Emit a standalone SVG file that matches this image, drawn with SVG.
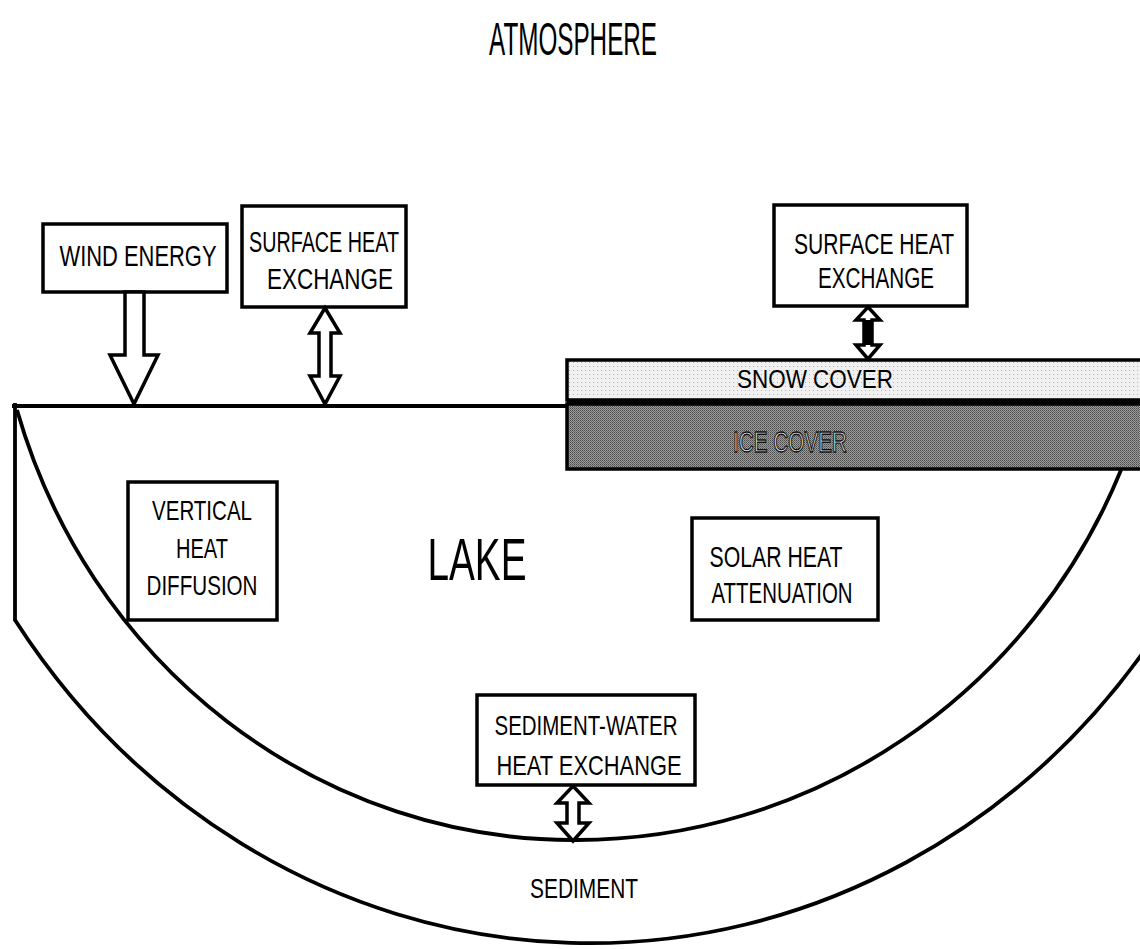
<svg xmlns="http://www.w3.org/2000/svg" width="1140" height="949" viewBox="0 0 1140 949">
<style>
.t{font-family:"Liberation Sans Narrow","Liberation Sans",Arial,sans-serif;fill:#000;text-anchor:middle}
.box{fill:#fff;stroke:#000;stroke-width:3.5}
.ln{fill:none;stroke:#000;stroke-width:3.8}
.arr{fill:#fff;stroke:#000;stroke-width:3.5;stroke-linejoin:miter}
</style>
<defs>
<pattern id="ice" width="2" height="2" patternUnits="userSpaceOnUse">
<rect width="2" height="2" fill="#9a9a9a"/>
<rect width="1" height="1" fill="#4a4a4a"/>
<rect x="1" y="1" width="1" height="1" fill="#6a6a6a"/>
</pattern>
<pattern id="snow" width="4" height="4" patternUnits="userSpaceOnUse">
<rect width="4" height="4" fill="#f0f0f0"/>
<rect x="1" y="2" width="1" height="1" fill="#b8b8b8"/>
</pattern>
</defs>
<rect width="1140" height="949" fill="#fff"/>

<text class="t" x="573" y="55" font-size="46" textLength="168" lengthAdjust="spacingAndGlyphs">ATMOSPHERE</text>

<g id="lake-body">
<line class="ln" x1="12" y1="406" x2="568" y2="406"/>
<line class="ln" x1="15" y1="403" x2="15" y2="621"/>
<path class="ln" d="M 17 410 A 580 600 0 0 0 575 840 A 590 600 0 0 0 1121 470"/>
<path class="ln" d="M 15 620 A 697 743 0 0 0 1142 654"/>
</g>

<g id="snow-cover">
<rect x="567" y="360" width="580" height="40" fill="url(#snow)" stroke="#000" stroke-width="3.5"/>
<text class="t" x="815" y="388" font-size="25" textLength="156" lengthAdjust="spacingAndGlyphs">SNOW COVER</text>
</g>
<g id="ice-cover">
<rect x="567" y="399" width="580" height="7" fill="#000"/>
<rect x="567" y="404" width="580" height="65" fill="url(#ice)" stroke="#000" stroke-width="3.5"/>
<text class="t" x="790" y="452" font-size="29" textLength="114" lengthAdjust="spacingAndGlyphs" style="fill:#f2f2f2;stroke:#111;stroke-width:1.3">ICE COVER</text>
</g>

<g id="wind-energy">
<rect class="box" x="43" y="224" width="184" height="68" stroke-width="4"/>
<text class="t" x="138" y="266" font-size="29" textLength="157" lengthAdjust="spacingAndGlyphs">WIND ENERGY</text>
</g>

<g id="surface-heat-left">
<rect class="box" x="242" y="206" width="164" height="101"/>
<text class="t" x="324" y="252" font-size="29" textLength="150" lengthAdjust="spacingAndGlyphs">SURFACE HEAT</text>
<text class="t" x="330" y="289" font-size="29" textLength="126" lengthAdjust="spacingAndGlyphs">EXCHANGE</text>
</g>

<g id="surface-heat-right">
<rect class="box" x="774" y="205" width="193" height="101"/>
<text class="t" x="874" y="254" font-size="29" textLength="160" lengthAdjust="spacingAndGlyphs">SURFACE HEAT</text>
<text class="t" x="876" y="288" font-size="29" textLength="116" lengthAdjust="spacingAndGlyphs">EXCHANGE</text>
</g>

<g id="vertical-heat-diffusion">
<rect class="box" x="128" y="482" width="149" height="138"/>
<text class="t" x="202" y="520" font-size="28" textLength="100" lengthAdjust="spacingAndGlyphs">VERTICAL</text>
<text class="t" x="202" y="558" font-size="28" textLength="52" lengthAdjust="spacingAndGlyphs">HEAT</text>
<text class="t" x="202" y="595" font-size="28" textLength="111" lengthAdjust="spacingAndGlyphs">DIFFUSION</text>
</g>

<g id="lake-label">
<text class="t" x="477" y="580" font-size="60" textLength="99" lengthAdjust="spacingAndGlyphs">LAKE</text>
</g>

<g id="solar-heat-attenuation">
<rect class="box" x="692" y="518" width="186" height="102"/>
<text class="t" x="776" y="567" font-size="29" textLength="133" lengthAdjust="spacingAndGlyphs">SOLAR HEAT</text>
<text class="t" x="782" y="603" font-size="29" textLength="141" lengthAdjust="spacingAndGlyphs">ATTENUATION</text>
</g>

<g id="sediment-water">
<rect class="box" x="477" y="695" width="218" height="90"/>
<text class="t" x="586" y="735" font-size="27" textLength="183" lengthAdjust="spacingAndGlyphs">SEDIMENT-WATER</text>
<text class="t" x="589" y="775" font-size="28" textLength="185" lengthAdjust="spacingAndGlyphs">HEAT EXCHANGE</text>
</g>

<g id="sediment-label">
<text class="t" x="584" y="898" font-size="27" textLength="108" lengthAdjust="spacingAndGlyphs">SEDIMENT</text>
</g>

<g id="connectors">
<polygon class="arr" points="125,292 144,292 144,355 158,355 134,404 110,355 125,355"/>
<polygon class="arr" points="325,308 340,333 331,333 331,376 340,376 325,404 310,376 319,376 319,333 310,333"/>
<polygon class="arr" points="868,307 880,320 872,320 872,345 880,345 868,359 856,345 864,345 864,320 856,320"/>
<rect x="864" y="320" width="8" height="25" fill="#000"/>
<polygon class="arr" points="573,786 589,803 579,803 579,823 589,823 573,841 557,823 567,823 567,803 557,803"/>
</g>
</svg>
